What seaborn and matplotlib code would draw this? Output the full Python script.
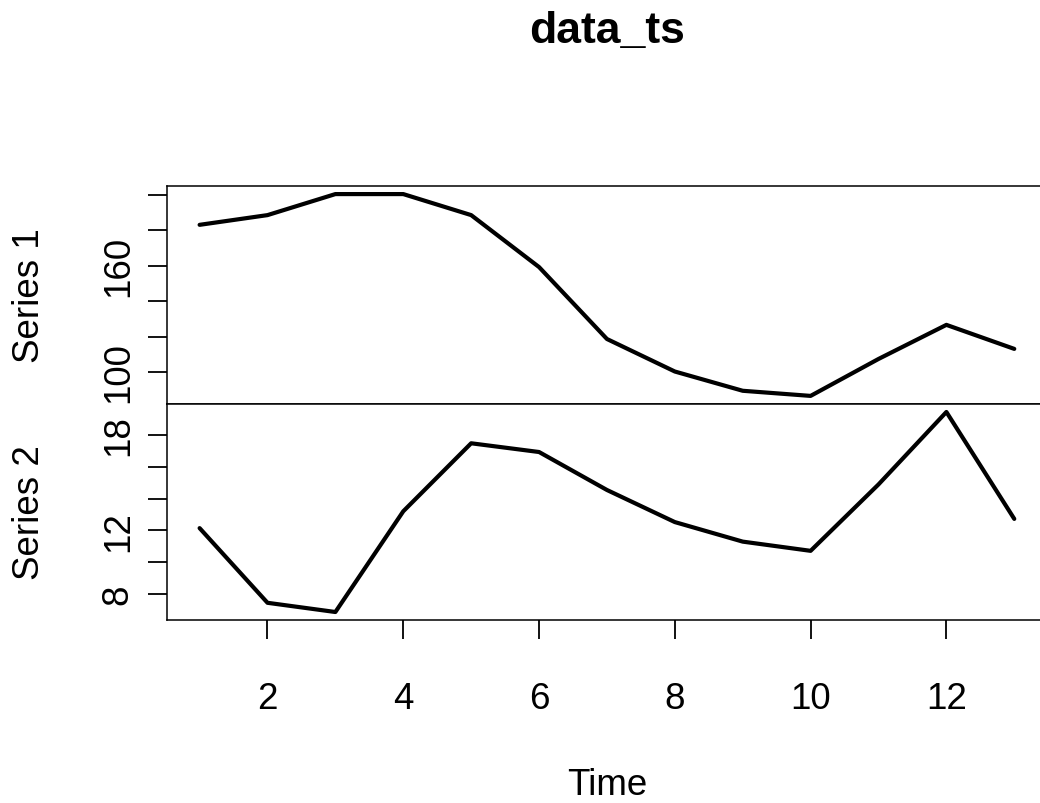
import matplotlib
matplotlib.use("Agg")
import matplotlib.pyplot as plt
import seaborn as sns
import pandas as pd

time = [1, 2, 3, 4, 5, 6, 7, 8, 9, 10, 11, 12, 13]
series1 = [183.2, 188.7, 200.6, 200.6, 188.7, 159.3, 118.6, 100.2, 89.3, 86.4, 107.3, 126.6, 113.0]
series2 = [12.14, 7.44, 6.86, 13.2, 17.48, 16.93, 14.54, 12.52, 11.29, 10.71, 14.89, 19.45, 12.72]

s1_ticks = [100, 120, 140, 160, 180, 200]
s1_labels = ["100", "", "", "160", "", ""]
s2_ticks = [8, 10, 12, 14, 16, 18]
s2_labels = ["8", "", "12", "", "", "18"]
x_ticks = [2, 4, 6, 8, 10, 12]

title = "data_ts"
xlabel = "Time"
ylabels = ["Series 1", "Series 2"]

sns.set_theme(style="white")
plt.rcParams["font.family"] = ["Liberation Sans", "DejaVu Sans"]
plt.rcParams["text.color"] = "black"
plt.rcParams["axes.labelcolor"] = "black"
plt.rcParams["xtick.color"] = "black"
plt.rcParams["ytick.color"] = "black"

df = pd.DataFrame({"Time": time, "Series 1": series1, "Series 2": series2})

fig = plt.figure(figsize=(10.4, 8.04), dpi=100)
ax1 = fig.add_axes([0.1606, 0.4963, 0.846, 0.2711])
ax2 = fig.add_axes([0.1606, 0.2276, 0.846, 0.2687])

FS = 26.5
for ax, col, ticks, labels, lab in [
    (ax1, "Series 1", s1_ticks, s1_labels, ylabels[0]),
    (ax2, "Series 2", s2_ticks, s2_labels, ylabels[1]),
]:
    sns.lineplot(data=df, x="Time", y=col, ax=ax, color="black", linewidth=3.0)
    ax.margins(x=0.04, y=0.04)
    ax.set_yticks(ticks)
    ax.set_yticklabels(labels, rotation=90, va="center", fontsize=FS, color="black")
    for s in ax.spines.values():
        s.set_visible(True)
        s.set_color("black")
        s.set_linewidth(1.1)
    ax.tick_params(axis="y", which="major", direction="out", length=14, width=1.3,
                   color="black", left=True, pad=8.5, labelsize=FS, labelcolor="black")
    ax.set_ylabel(lab, fontsize=FS, color="black")
    ax.yaxis.set_label_coords(-0.1363, 0.5)

ax1.set_xlabel("")
ax1.set_xticks([])
ax2.set_xticks(x_ticks)
ax2.set_xticklabels([str(t) for t in x_ticks], fontsize=FS, color="black")
ax2.tick_params(axis="x", which="major", direction="out", length=14, width=1.3,
                color="black", bottom=True, pad=30, labelsize=FS, labelcolor="black")
ax2.set_xlabel(xlabel, fontsize=FS, color="black")
ax2.xaxis.set_label_coords(0.5, -0.68)

ax1.set_title(title, fontsize=32, fontweight="bold", y=1.6606, pad=0, va="baseline",
              color="black")

fig.savefig("out.png", dpi=100, facecolor="white")
